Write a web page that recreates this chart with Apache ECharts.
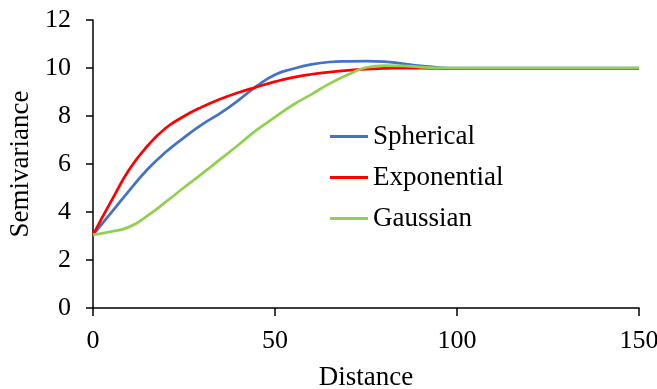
<!DOCTYPE html>
<html>
<head>
<meta charset="utf-8">
<script src="https://cdn.jsdelivr.net/npm/echarts@6/dist/echarts.min.js"></script>
<style>
  html, body { margin: 0; padding: 0; background: #fff; }
  #chart { width: 657px; height: 389px; }
</style>
</head>
<body>
<div id="chart"></div>
<script>
// Semivariogram models: lag distance vs. semivariance
const distances   = [0, 5, 10, 15, 20, 25, 30, 35, 40, 45, 50, 55, 60, 65, 70, 75, 80, 85, 90, 95, 100, 110, 120, 130, 140, 150];
const spherical   = [3.05, 3.97, 4.9, 5.78, 6.5, 7.1, 7.65, 8.12, 8.66, 9.25, 9.72, 9.97, 10.15, 10.25, 10.28, 10.29, 10.27, 10.18, 10.09, 10.02, 9.99, 10.0, 10.0, 10.0, 10.0, 10.0];
const exponential = [3.05, 4.45, 5.78, 6.76, 7.5, 7.99, 8.38, 8.71, 8.98, 9.21, 9.43, 9.61, 9.74, 9.83, 9.9, 9.95, 9.98, 10.0, 9.99, 9.98, 9.97, 9.97, 9.97, 9.97, 9.97, 9.97];
const gaussian    = [3.05, 3.18, 3.38, 3.85, 4.42, 5.02, 5.6, 6.2, 6.8, 7.42, 7.95, 8.47, 8.9, 9.35, 9.72, 10.02, 10.1, 10.09, 10.04, 10.01, 10.0, 10.0, 10.0, 10.0, 10.0, 10.0];
const seriesNames = ['Spherical', 'Exponential', 'Gaussian'];
const xTicks = { min: 0, max: 150, interval: 50 };
const yTicks = { min: 0, max: 12, interval: 2 };

const FONT = '"Liberation Serif", "Times New Roman", serif';
const colors = ['#4472C4', '#FF0000', '#92D050'];
const values = [spherical, exponential, gaussian];

const toPairs = ys => distances.map((d, i) => [d, ys[i]]);

const chart = echarts.init(document.getElementById('chart'), null, { renderer: 'canvas' });
chart.setOption({
  animation: false,
  backgroundColor: '#fff',
  grid: { left: 93, right: 18, top: 20, bottom: 81, containLabel: false, outerBoundsMode: 'none' },
  legend: {
    orient: 'vertical',
    left: 330,
    top: 123,
    padding: 0,
    icon: 'rect',
    itemWidth: 38,
    itemHeight: 3,
    itemGap: 14,
    textStyle: { fontFamily: FONT, fontSize: 27, color: '#000' },
    data: seriesNames
  },
  xAxis: {
    type: 'value',
    min: xTicks.min, max: xTicks.max, interval: xTicks.interval,
    name: 'Distance',
    nameLocation: 'middle',
    nameGap: 56,
    nameTextStyle: { fontFamily: FONT, fontSize: 27, color: '#000' },
    axisLine: { show: true, lineStyle: { color: '#000', width: 1.5 } },
    axisTick: { show: true, inside: false, length: 8, lineStyle: { color: '#000', width: 1.5 } },
    axisLabel: { fontFamily: FONT, fontSize: 26, color: '#000', margin: 20 },
    splitLine: { show: false }
  },
  yAxis: {
    type: 'value',
    min: yTicks.min, max: yTicks.max, interval: yTicks.interval,
    name: 'Semivariance',
    nameLocation: 'middle',
    nameGap: 53,
    nameTextStyle: { fontFamily: FONT, fontSize: 27, color: '#000' },
    axisLine: { show: true, lineStyle: { color: '#000', width: 1.5 } },
    axisTick: { show: true, inside: false, length: 7, lineStyle: { color: '#000', width: 1.5 } },
    axisLabel: { fontFamily: FONT, fontSize: 26, color: '#000', margin: 22 },
    splitLine: { show: false }
  },
  series: seriesNames.map((name, i) => ({
    name,
    type: 'line',
    data: toPairs(values[i]),
    smooth: true,
    symbol: 'none',
    color: colors[i],
    itemStyle: { color: colors[i] },
    lineStyle: { color: colors[i], width: 2.75 }
  }))
});
</script>
</body>
</html>
